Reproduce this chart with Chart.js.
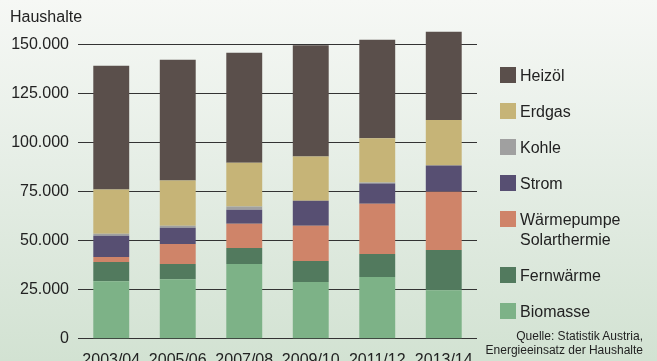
<!DOCTYPE html>
<html>
  <head>
    <title>Haushalte nach Energieträger</title>
    <script src="https://cdn.jsdelivr.net/npm/chart.js@4.4.1/dist/chart.umd.min.js"></script>
    <style>
      html, body { margin: 0; padding: 0; overflow: hidden; }
      body {
        width: 657px;
        height: 361px;
        background: linear-gradient(to bottom, #f6f8f5 0%, #e6eee6 45%, #d2e2d2 100%);
        font-family: 'Liberation Sans', Arial, sans-serif;
        color: #222;
      }
      #wrap { position: relative; width: 657px; height: 361px; }
      #container { position: absolute; left: 0; top: 0; width: 657px; height: 383px; }
      #unit { position: absolute; left: 10px; top: 8px; font-size: 16px; }
      #legend { position: absolute; left: 500px; top: 67px; font-size: 16px; line-height: 20px; }
      .item { position: relative; height: 36px; }
      .item.two { height: 56px; }
      .box { position: absolute; left: 0; top: 0; width: 16px; height: 16px; }
      .lbl { position: absolute; left: 20px; top: -1px; white-space: nowrap; }
      #source { position: absolute; right: 14px; top: 330px; font-size: 12px; line-height: 13.5px; text-align: right; color: #222; }
    </style>
  </head>

  <body>
    <div id="wrap">
      <div id="container">
        <canvas id="canvas"></canvas>
      </div>
      <div id="unit">Haushalte</div>
      <div id="legend"></div>
      <div id="source">Quelle: Statistik Austria,<br>Energieeinsatz der Haushalte</div>
    </div>
    <script>
      const years = ['2003/04', '2005/06', '2007/08', '2009/10', '2011/12', '2013/14'];

      // Haushalte je Energieträger (Werte aus der Grafik geschätzt)
      const biomasse = [29400, 30400, 38100, 28900, 31500, 24800];
      const fernwaerme = [9700, 7700, 8200, 10800, 11800, 20500];
      const waermepumpe = [2600, 10300, 12300, 17900, 25600, 29700];
      const strom = [10800, 8200, 7200, 12800, 10250, 13400];
      const kohle = [1000, 1000, 1600, 0, 500, 0];
      const erdgas = [22600, 23100, 22400, 22600, 22550, 23100];
      const heizoel = [63100, 61600, 56100, 56700, 50300, 45100];

      const yTicks = [0, 25000, 50000, 75000, 100000, 125000, 150000];

      const series = [
        { label: 'Biomasse', data: biomasse, color: '#7db287' },
        { label: 'Fernwärme', data: fernwaerme, color: '#527a5e' },
        { label: ['Wärmepumpe', 'Solarthermie'], data: waermepumpe, color: '#cf8469' },
        { label: 'Strom', data: strom, color: '#574f72' },
        { label: 'Kohle', data: kohle, color: '#a0a0a0' },
        { label: 'Erdgas', data: erdgas, color: '#c6b477' },
        { label: 'Heizöl', data: heizoel, color: '#5a4f4b' },
      ];

      // Legende (oben nach unten = Stapel von oben)
      const legend = document.getElementById('legend');
      series.slice().reverse().forEach((s) => {
        const item = document.createElement('div');
        const lines = Array.isArray(s.label) ? s.label : [s.label];
        item.className = lines.length > 1 ? 'item two' : 'item';
        item.innerHTML = '<div class="box" style="background:' + s.color + '"></div>' +
          '<div class="lbl">' + lines.join('<br>') + '</div>';
        legend.appendChild(item);
      });

      const fmt = (v) => v.toLocaleString('de-DE');

      window.onload = () => {
        const ctx = document.getElementById('canvas').getContext('2d');
        new Chart(ctx, {
          type: 'bar',
          data: {
            labels: years,
            datasets: series.map((s) => ({
              label: Array.isArray(s.label) ? s.label.join(' ') : s.label,
              data: s.data,
              backgroundColor: s.color,
              borderWidth: 0,
              barPercentage: 0.54,
              categoryPercentage: 1,
            })),
          },
          options: {
            responsive: true,
            maintainAspectRatio: false,
            animation: false,
            layout: { padding: { top: 25, right: 180, bottom: 1, left: 0 } },
            plugins: {
              legend: { display: false },
              tooltip: { enabled: false },
            },
            scales: {
              x: {
                stacked: true,
                grid: { display: false, drawTicks: false },
                border: { display: false },
                ticks: {
                  padding: 12,
                  color: '#222',
                  font: { family: "'Liberation Sans', Arial, sans-serif", size: 16 },
                  maxRotation: 0,
                },
              },
              y: {
                stacked: true,
                min: 0,
                max: 160000,
                grid: { color: '#333', lineWidth: 1, drawTicks: false },
                border: { display: false },
                afterBuildTicks: (axis) => {
                  axis.ticks = yTicks.map((v) => ({ value: v }));
                },
                afterFit: (axis) => { axis.width = 78; },
                ticks: {
                  padding: 9,
                  color: '#222',
                  font: { family: "'Liberation Sans', Arial, sans-serif", size: 16 },
                  callback: (v) => fmt(v),
                },
              },
            },
          },
        });
      };
    </script>
  </body>
</html>
